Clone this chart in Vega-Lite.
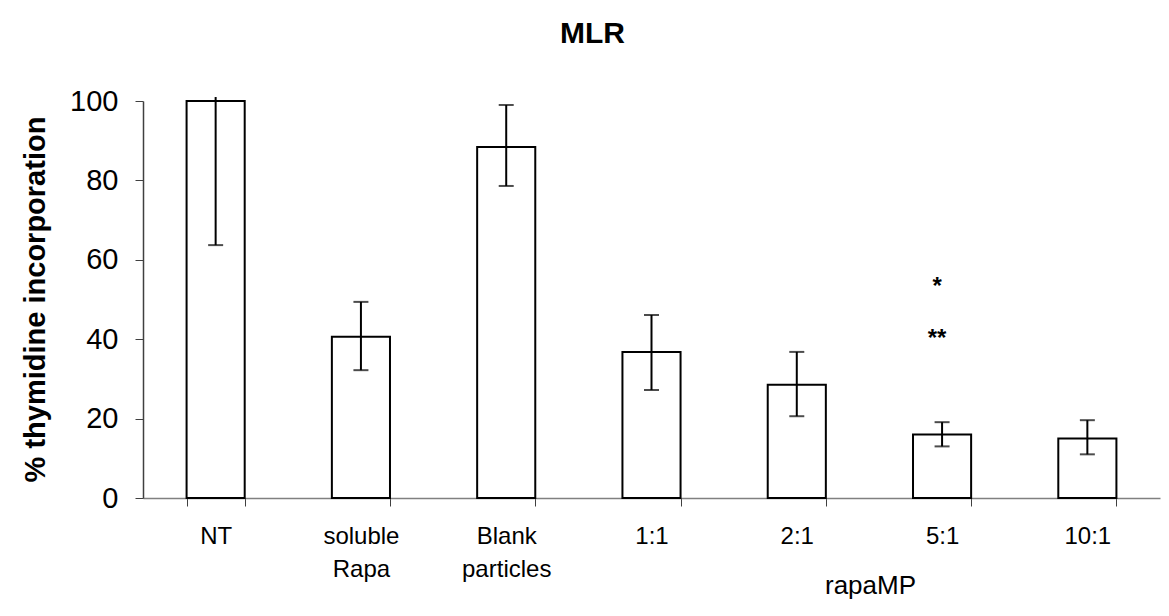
{
  "$schema": "https://vega.github.io/schema/vega-lite/v6.json",
  "autosize": {"type": "none"},
  "padding": {"left": 143, "top": 101, "right": 9, "bottom": 118},
  "width": 1017,
  "height": 397,
  "background": "white",
  "title": {
    "text": "MLR",
    "fontSize": 30,
    "fontWeight": "bold",
    "font": "Liberation Sans",
    "color": "black",
    "anchor": "middle",
    "dx": -59,
    "offset": 38
  },
  "config": {
    "font": "Liberation Sans",
    "view": {"stroke": null}
  },
  "datasets": {
    "bars": [
      {"group": "NT", "value": 100, "lo": 63.7, "hi": 101, "cap": false},
      {"group": "soluble Rapa", "value": 40.6, "lo": 32.2, "hi": 49.4, "cap": true},
      {"group": "Blank particles", "value": 88.4, "lo": 78.6, "hi": 99, "cap": true},
      {"group": "1:1", "value": 36.8, "lo": 27.2, "hi": 46.1, "cap": true},
      {"group": "2:1", "value": 28.5, "lo": 20.6, "hi": 36.8, "cap": true},
      {"group": "5:1", "value": 16.0, "lo": 13.0, "hi": 19.1, "cap": true},
      {"group": "10:1", "value": 15.0, "lo": 11.0, "hi": 19.6, "cap": true}
    ],
    "stars": [
      {"group": "5:1", "y": 54.3, "label": "*"},
      {"group": "5:1", "y": 41.3, "label": "**"}
    ]
  },
  "encoding": {
    "x": {
      "field": "group",
      "type": "nominal",
      "sort": ["NT", "soluble Rapa", "Blank particles", "1:1", "2:1", "5:1", "10:1"],
      "scale": {"paddingInner": 0.6, "paddingOuter": 0.3},
      "axis": {
        "title": "rapaMP",
        "titleFontSize": 26,
        "titleFontWeight": "normal",
        "titleColor": "black",
        "titleX": 727,
        "titleY": 87,
        "titleBaseline": "middle",
        "titleAnchor": null,
        "labelAngle": 0,
        "labelFontSize": 24,
        "labelColor": "black",
        "labelPadding": 18,
        "labelLineHeight": 33,
        "labelExpr": "split(datum.label, ' ')",
        "tickBand": "extent",
        "tickSize": 8,
        "tickColor": "#404040",
        "domainColor": "#808080",
        "domainWidth": 1.5,
        "grid": false
      }
    }
  },
  "layer": [
    {
      "data": {"name": "bars"},
      "mark": {"type": "bar", "fill": "white", "stroke": "black", "strokeWidth": 2},
      "encoding": {
        "y": {
          "field": "value",
          "type": "quantitative",
          "scale": {"domain": [0, 100], "nice": false},
          "axis": {
            "title": "% thymidine incorporation",
            "titleFontSize": 29,
            "titleFontWeight": "bold",
            "titleColor": "black",
            "titleX": -108,
            "titleY": 198,
            "titleAngle": -90,
            "titleBaseline": "middle",
            "titleAlign": "center",
            "values": [0, 20, 40, 60, 80, 100],
            "labelFontSize": 29,
            "labelColor": "black",
            "labelPadding": 17,
            "tickSize": 8,
            "tickColor": "#404040",
            "domainColor": "#404040",
            "domainWidth": 1.5,
            "grid": false
          }
        }
      }
    },
    {
      "data": {"name": "bars"},
      "mark": {"type": "rule", "color": "black", "strokeWidth": 2},
      "encoding": {
        "y": {"field": "lo", "type": "quantitative"},
        "y2": {"field": "hi"}
      }
    },
    {
      "data": {"name": "bars"},
      "mark": {"type": "tick", "color": "black", "thickness": 2, "size": 15},
      "encoding": {
        "y": {"field": "lo", "type": "quantitative"}
      }
    },
    {
      "data": {"name": "bars"},
      "transform": [{"filter": "datum.cap"}],
      "mark": {"type": "tick", "color": "black", "thickness": 2, "size": 15},
      "encoding": {
        "y": {"field": "hi", "type": "quantitative"}
      }
    },
    {
      "data": {"name": "stars"},
      "mark": {"type": "text", "fontSize": 24, "fontWeight": "bold", "color": "black", "baseline": "middle", "dx": -5, "dy": 5},
      "encoding": {
        "y": {"field": "y", "type": "quantitative"},
        "text": {"field": "label"}
      }
    }
  ]
}
